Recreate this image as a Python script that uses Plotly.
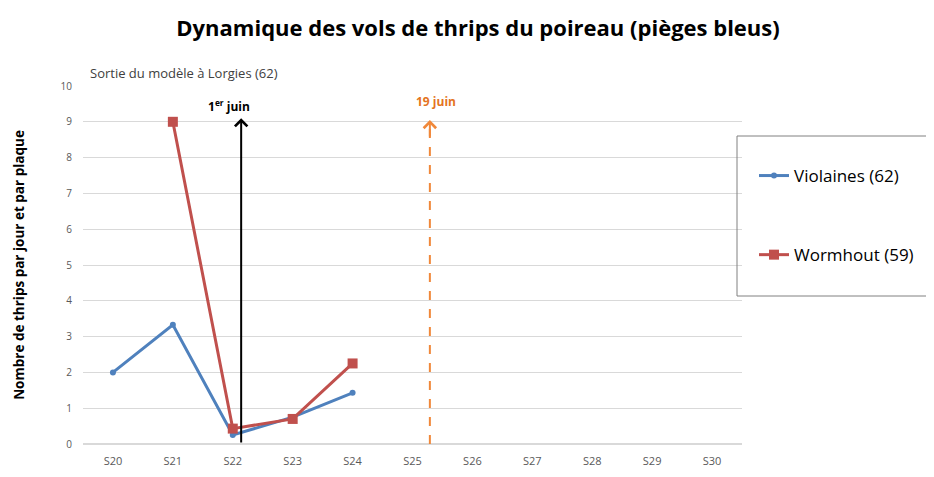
import plotly.graph_objects as go

weeks = ["S20", "S21", "S22", "S23", "S24", "S25", "S26", "S27", "S28", "S29", "S30"]
violaines = [2.0, 3.33, 0.25, 0.75, 1.43, None, None, None, None, None, None]
wormhout = [None, 9.0, 0.43, 0.70, 2.25, None, None, None, None, None, None]

# event positions (in week index units) and heights
juin1_pos, juin1_top = 2.14, 9.1
juin19_pos, juin19_top = 5.29, 9.05

blue = "#4F81BD"
red = "#C0504D"
orange = "#F0883A"

# plot area (page pixels; page has an 8px body margin)
PL, PR, PT, PB = 83, 742, 86, 444
PW, PH = PR - PL, PB - PT

fig = go.Figure()
fig.add_trace(go.Scatter(
    x=weeks, y=violaines, name="Violaines (62)", mode="lines+markers",
    line=dict(color=blue, width=3), marker=dict(symbol="circle", size=6, color=blue),
    legendgroup="a"))
fig.add_trace(go.Scatter(
    x=weeks, y=wormhout, name="Wormhout (59)", mode="lines+markers",
    line=dict(color=red, width=3), marker=dict(symbol="square", size=10, color=red),
    legendgroup="b"))

# 1er juin arrow
fig.add_annotation(x=juin1_pos, y=juin1_top, ax=juin1_pos, ay=0, xref="x", yref="y",
                   axref="x", ayref="y", text="", showarrow=True, arrowhead=4,
                   arrowsize=1.2, arrowwidth=2, arrowcolor="#000000")
fig.add_annotation(x=juin1_pos - 0.2, y=juin1_top + 0.35, xref="x", yref="y",
                   text="<b>1<sup>er</sup> juin</b>", showarrow=False,
                   font=dict(size=12, color="#000000", family="Open Sans, Arial"))

# 19 juin dashed arrow
fig.add_shape(type="line", x0=juin19_pos, x1=juin19_pos, y0=0, y1=juin19_top - 0.2,
              xref="x", yref="y", line=dict(color=orange, width=2, dash="dash"))
fig.add_annotation(x=juin19_pos, y=juin19_top, ax=juin19_pos, ay=juin19_top - 0.5,
                   xref="x", yref="y", axref="x", ayref="y", text="", showarrow=True,
                   arrowhead=4, arrowsize=1.2, arrowwidth=2, arrowcolor=orange)
fig.add_annotation(x=juin19_pos + 0.1, y=juin19_top + 0.52, xref="x", yref="y",
                   text="<b>19 juin</b>", showarrow=False,
                   font=dict(size=12, color="#E4741F", family="Open Sans, Arial"))

# subtitle
fig.add_annotation(x=(88 - PL) / PW, y=(PB - 73) / PH, xref="paper", yref="paper", xanchor="left",
                   yanchor="middle", text="Sortie du modèle à Lorgies (62)",
                   showarrow=False, font=dict(size=13, color="#404040", family="Open Sans, Arial"))

# legend box
fig.add_shape(type="rect", xref="paper", yref="paper", x0=(737 - PL) / PW, x1=(931 - PL) / PW,
              y0=(PB - 296) / PH, y1=(PB - 136) / PH, line=dict(color="#808080", width=1),
              fillcolor="rgba(0,0,0,0)")

fig.update_layout(
    width=934, height=477,
    margin=dict(l=PL - 8, r=934 - (PR - 8), t=PT - 8, b=477 - (PB - 8), autoexpand=False),
    paper_bgcolor="white", plot_bgcolor="white",
    title=dict(text="<b>Dynamique des vols de thrips du poireau (pièges bleus)</b>",
               x=(478 - 8) / 934, xanchor="center", y=1 - (28 - 8) / 477, yanchor="middle",
               font=dict(size=22, color="#000000", family="Open Sans, Arial")),
    font=dict(family="Open Sans, Arial", color="#595959"),
    legend=dict(x=(754 - PL) / PW, y=(PB - 158) / PH, xanchor="left", yanchor="top",
                font=dict(size=17, color="#000000"), traceorder="grouped",
                tracegroupgap=54, bgcolor="rgba(0,0,0,0)"),
    xaxis=dict(type="category", categoryarray=weeks, range=[-0.5, 10.5], automargin=False,
               showgrid=False, showline=False, ticks="", ticklabelstandoff=9,
               tickfont=dict(size=11, color="#595959")),
    yaxis=dict(range=[0, 10], dtick=1, showgrid=True, gridcolor="#D9D9D9", gridwidth=1,
               zeroline=True, zerolinecolor="#D9D9D9", showline=False, ticks="",
               ticklabelstandoff=10, automargin=False,
               tickfont=dict(size=10, color="#595959"),
               title=dict(text="<b>Nombre de thrips par jour et par plaque</b>",
                          font=dict(size=13.5, color="#000000"), standoff=32)),
)

fig.write_html("out.html")
